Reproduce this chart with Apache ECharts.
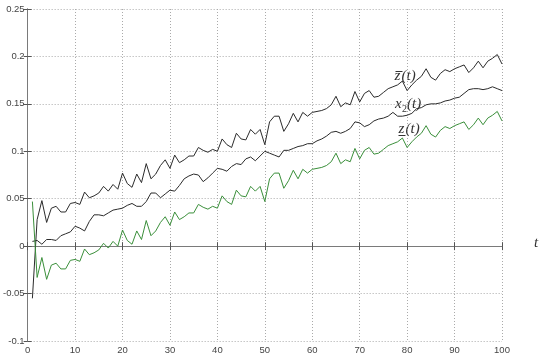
<!DOCTYPE html>
<html>
<head>
<meta charset="utf-8">
<script src="https://cdn.jsdelivr.net/npm/echarts@6/dist/echarts.min.js"></script>
<style>html,body{margin:0;padding:0;background:#fff;}#c{width:550px;height:357px;}</style>
</head>
<body>
<div id="c"></div>
<script>
var xTicks = [0,10,20,30,40,50,60,70,80,90,100];
var yTicks = [-0.1,-0.05,0,0.05,0.1,0.15,0.2,0.25];
var tValues = [];
for (var i = 1; i <= 100; i++) tValues.push(i);

var zUpper = [
-0.055,0.028,0.048,0.025,0.040,0.042,0.036,0.036,0.045,0.046,
0.044,0.057,0.051,0.053,0.056,0.063,0.058,0.065,0.060,0.077,
0.066,0.062,0.076,0.067,0.087,0.071,0.076,0.085,0.091,0.082,
0.096,0.088,0.091,0.095,0.095,0.104,0.101,0.099,0.102,0.100,
0.113,0.107,0.104,0.119,0.113,0.112,0.123,0.118,0.123,0.107,
0.131,0.137,0.137,0.121,0.129,0.140,0.131,0.141,0.137,0.141,
0.142,0.143,0.145,0.149,0.158,0.147,0.151,0.149,0.163,0.152,
0.161,0.164,0.157,0.158,0.162,0.166,0.168,0.170,0.174,0.164,
0.170,0.175,0.179,0.187,0.178,0.175,0.182,0.186,0.184,0.187,
0.189,0.191,0.183,0.188,0.195,0.188,0.195,0.198,0.202,0.192];

var x2 = [
0.005,0.006,0.002,0.007,0.007,0.006,0.011,0.013,0.015,0.021,
0.019,0.016,0.026,0.033,0.033,0.032,0.035,0.038,0.039,0.040,
0.043,0.045,0.042,0.042,0.047,0.056,0.056,0.051,0.055,0.059,
0.058,0.064,0.071,0.074,0.076,0.075,0.068,0.072,0.077,0.082,
0.081,0.079,0.084,0.087,0.086,0.092,0.094,0.090,0.095,0.100,
0.098,0.096,0.094,0.101,0.101,0.103,0.105,0.106,0.108,0.108,
0.111,0.113,0.116,0.120,0.121,0.119,0.121,0.124,0.131,0.130,
0.126,0.128,0.132,0.134,0.135,0.137,0.141,0.137,0.137,0.138,
0.140,0.145,0.146,0.149,0.150,0.150,0.151,0.153,0.154,0.156,
0.157,0.161,0.165,0.166,0.166,0.165,0.166,0.168,0.166,0.164];

var zLower = [
0.047,-0.033,-0.012,-0.035,-0.020,-0.018,-0.024,-0.024,-0.015,-0.014,
-0.016,-0.003,-0.009,-0.007,-0.004,0.003,-0.002,0.005,0.000,0.017,
0.006,0.002,0.016,0.007,0.027,0.011,0.016,0.025,0.031,0.022,
0.036,0.028,0.031,0.035,0.035,0.044,0.041,0.039,0.042,0.040,
0.053,0.047,0.044,0.059,0.053,0.052,0.063,0.058,0.063,0.047,
0.071,0.077,0.077,0.061,0.069,0.080,0.071,0.081,0.077,0.081,
0.082,0.083,0.085,0.089,0.098,0.087,0.091,0.089,0.103,0.092,
0.101,0.104,0.097,0.098,0.102,0.106,0.108,0.110,0.114,0.104,
0.110,0.115,0.119,0.127,0.118,0.115,0.122,0.126,0.124,0.127,
0.129,0.131,0.123,0.128,0.135,0.128,0.135,0.138,0.142,0.132];

function pairs(arr){ return arr.map(function(v,i){ return [tValues[i], v]; }); }

var chart = echarts.init(document.getElementById('c'), null, {renderer:'canvas'});
var axisCol = '#7a7a7a';
var labelStyle = {color:'#444', fontSize:9.5, fontFamily:'Liberation Sans, Arial, sans-serif'};
var serif = 'italic 15px "Liberation Serif", "DejaVu Serif", serif';
var ink = '#333';
chart.setOption({
  animation:false,
  backgroundColor:'#fff',
  grid:{left:23, right:48, top:9, bottom:16, show:false},
  xAxis:[{
    type:'value', min:xTicks[0], max:xTicks[xTicks.length-1], interval:10, position:'bottom',
    axisLine:{show:true, lineStyle:{color:axisCol, width:1}},
    axisTick:{show:true, inside:true, length:4, lineStyle:{color:'#555'}},
    axisLabel:Object.assign({margin:4}, labelStyle),
    splitLine:{show:true, lineStyle:{color:'#aaa', type:[1,2], width:1}}
  },{
    type:'value', min:xTicks[0], max:xTicks[xTicks.length-1], interval:10, position:'top',
    axisLine:{show:true, lineStyle:{color:axisCol, width:1}},
    axisTick:{show:true, inside:true, length:4, lineStyle:{color:'#555'}},
    axisLabel:{show:false}, splitLine:{show:false}
  }],
  yAxis:[{
    type:'value', min:yTicks[0], max:yTicks[yTicks.length-1], interval:0.05, position:'left',
    axisLine:{show:true, lineStyle:{color:axisCol, width:1}},
    axisTick:{show:true, inside:true, length:4, lineStyle:{color:'#555'}},
    axisLabel:Object.assign({margin:3}, labelStyle),
    splitLine:{show:true, lineStyle:{color:'#aaa', type:[1,2], width:1}}
  },{
    type:'value', min:yTicks[0], max:yTicks[yTicks.length-1], interval:0.05, position:'right',
    axisLine:{show:true, lineStyle:{color:axisCol, width:1}},
    axisTick:{show:true, inside:true, length:4, lineStyle:{color:'#555'}},
    axisLabel:{show:false}, splitLine:{show:false}
  }],
  series:[
    {name:'zbar', type:'line', data:pairs(zUpper), showSymbol:false, lineStyle:{color:'#2b2b2b', width:1}, z:3},
    {name:'x2', type:'line', data:pairs(x2), showSymbol:false, lineStyle:{color:'#2b2b2b', width:1}, z:3},
    {name:'zlow', type:'line', data:pairs(zLower), showSymbol:false, lineStyle:{color:'#3a8f3a', width:1}, z:3}
  ],
  graphic:[
    {type:'group', left:393, top:69, z:10, children:[
      {type:'text', x:0, y:0, style:{text:'z', fill:ink, font:serif}},
      {type:'text', x:7, y:0, style:{text:'(t)', fill:ink, font:serif}},
      {type:'line', shape:{x1:1, y1:2.5, x2:8, y2:2.5}, style:{stroke:ink, lineWidth:1}}
    ]},
    {type:'group', left:395, top:97, z:10, children:[
      {type:'text', x:0, y:0, style:{text:'x', fill:ink, font:serif}},
      {type:'text', x:7, y:7, style:{text:'2', fill:ink, font:'10px "Liberation Serif", serif'}},
      {type:'text', x:12, y:0, style:{text:'(t)', fill:ink, font:serif}}
    ]},
    {type:'group', left:396, top:122, z:10, children:[
      {type:'text', x:0, y:0, style:{text:'z', fill:ink, font:serif}},
      {type:'text', x:7, y:0, style:{text:'(t)', fill:ink, font:serif}},
      {type:'line', shape:{x1:0, y1:13.5, x2:7, y2:13.5}, style:{stroke:ink, lineWidth:1}}
    ]},
    {type:'text', left:534, top:236, style:{text:'t', fill:ink, font:serif}}
  ]
});
</script>
</body>
</html>
